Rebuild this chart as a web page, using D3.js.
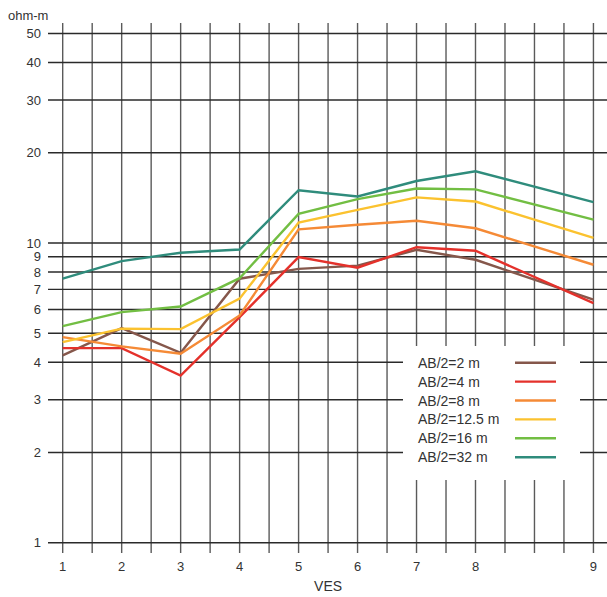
<!DOCTYPE html>
<html>
<head>
<meta charset="utf-8">
<script src="https://cdn.jsdelivr.net/npm/d3@7"></script>
<style>
  html, body { margin: 0; padding: 0; background: #fff; }
  svg { display: block; }
  text { font-family: "Liberation Sans", Arial, Helvetica, sans-serif; fill: #333; }
</style>
</head>
<body>
<svg id="chart" width="607" height="597"></svg>
<script>
// ---- data ----
const ves = [1, 2, 3, 4, 5, 6, 7, 8, 9];
const seriesNames = ["AB/2=2 m", "AB/2=4 m", "AB/2=8 m", "AB/2=12.5 m", "AB/2=16 m", "AB/2=32 m"];
const ab2m   = [4.22, 5.2, 4.3, 7.6, 8.2, 8.4, 9.49, 8.79, 6.47];
const ab4m   = [4.46, 4.46, 3.61, 5.66, 8.97, 8.27, 9.68, 9.42, 6.3];
const ab8m   = [4.85, 4.52, 4.27, 5.73, 11.1, 11.5, 11.86, 11.2, 8.46];
const ab12m  = [4.67, 5.18, 5.16, 6.52, 11.7, 12.9, 14.2, 13.75, 10.4];
const ab16m  = [5.28, 5.88, 6.14, 7.63, 12.5, 14.0, 15.2, 15.1, 11.97];
const ab32m  = [7.6, 8.7, 9.28, 9.51, 15.0, 14.3, 16.1, 17.35, 13.68];
const seriesColors = ["#85574b", "#e4312b", "#f58a36", "#fbc22f", "#72be43", "#2f8c7c"];
const yTicks = [1, 2, 3, 4, 5, 6, 7, 8, 9, 10, 20, 30, 40, 50];
const xTickLabels = [1, 2, 3, 4, 5, 6, 7, 8, 9];
const xGrid = [1, 1.5, 2, 2.5, 3, 3.5, 4, 4.5, 5, 5.5, 6, 6.5, 7, 7.5, 8, 8.25, 8.5, 8.75, 9];

const allSeries = [ab2m, ab4m, ab8m, ab12m, ab16m, ab32m];

// ---- layout ----
const svg = d3.select("#chart");
const x1 = 62.7, x8 = 475.5;
const x9 = x8 + 2 * (x8 - x1) / 7;
const x = d3.scaleLinear().domain([1, 8, 9]).range([x1, x8, x9]);
const y = d3.scaleLog().domain([1, 50]).range([542.7, 33.5]);

const gridTop = 23, gridBottom = 553, gridLeft = 48, gridRight = 607;

// vertical grid
svg.append("g").selectAll("line").data(xGrid).join("line")
  .attr("x1", d => x(d)).attr("x2", d => x(d))
  .attr("y1", gridTop).attr("y2", gridBottom)
  .attr("stroke", "#5a5a5a").attr("stroke-width", 1.4);

// horizontal grid
svg.append("g").selectAll("line").data(yTicks).join("line")
  .attr("x1", gridLeft).attr("x2", gridRight)
  .attr("y1", d => y(d)).attr("y2", d => y(d))
  .attr("stroke", "#2a2a2a").attr("stroke-width", 1.4);

// y labels
svg.append("g").selectAll("text").data(yTicks).join("text")
  .attr("x", 41).attr("y", d => y(d)).attr("dy", "0.35em")
  .attr("text-anchor", "end").attr("font-size", 13)
  .text(d => d);

svg.append("text").attr("x", 8).attr("y", 20).attr("font-size", 13).text("ohm-m");

// x labels
svg.append("g").selectAll("text").data(xTickLabels).join("text")
  .attr("x", d => x(d)).attr("y", 571)
  .attr("text-anchor", "middle").attr("font-size", 13)
  .text(d => d);

svg.append("text").attr("x", (x1 + x9) / 2).attr("y", 591)
  .attr("text-anchor", "middle").attr("font-size", 14).text("VES");

// legend box (white)
const legX = 403, legY = 346, legW = 177, legH = 134;
svg.append("rect").attr("x", legX).attr("y", legY).attr("width", legW).attr("height", legH)
  .attr("fill", "#fff");

// lines
const line = d3.line().x((d, i) => x(ves[i])).y(d => y(d));
svg.append("g").selectAll("path").data(allSeries).join("path")
  .attr("d", d => line(d))
  .attr("fill", "none")
  .attr("stroke", (d, i) => seriesColors[i])
  .attr("stroke-width", 2.4)
  .attr("stroke-linejoin", "miter");

// legend entries
const leg = svg.append("g").selectAll("g").data(seriesNames).join("g")
  .attr("transform", (d, i) => `translate(0,${362.7 + i * 18.9})`);
leg.append("text").attr("x", 418).attr("dy", "0.36em").attr("font-size", 14).text(d => d);
leg.append("line").attr("x1", 515).attr("x2", 556).attr("y1", 0).attr("y2", 0)
  .attr("stroke", (d, i) => seriesColors[i]).attr("stroke-width", 2.4);
</script>
</body>
</html>
